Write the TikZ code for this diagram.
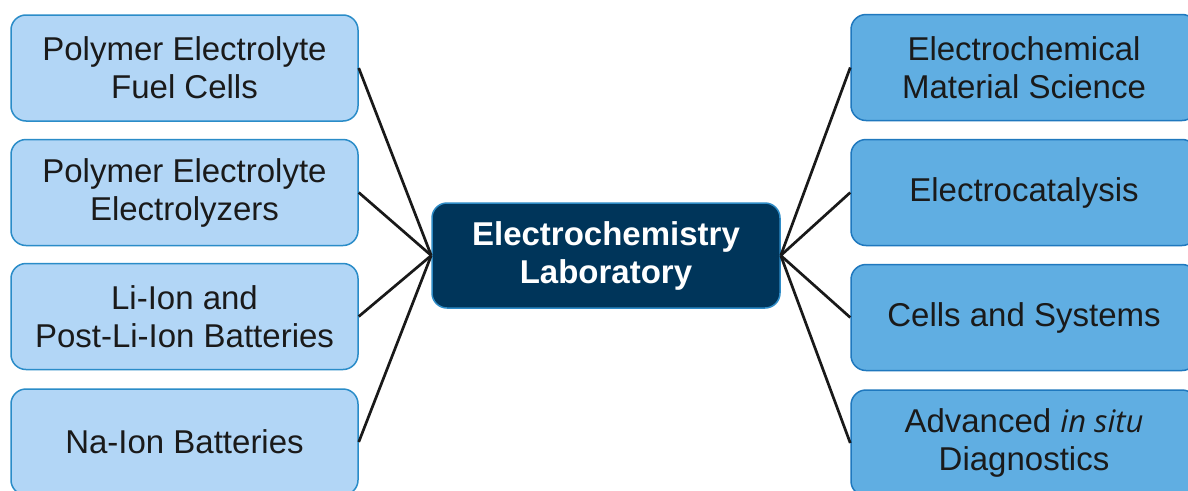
\documentclass[tikz,border=0pt]{standalone}
\usepackage{fontspec}
\setmainfont{Liberation Sans}
\newfontfamily\situfont{Open Sans}
\definecolor{leftfill}{HTML}{B2D6F6}
\definecolor{leftdraw}{HTML}{2A8CC8}
\definecolor{rightfill}{HTML}{60AEE2}
\definecolor{rightdraw}{HTML}{1F78BE}
\definecolor{centerfill}{HTML}{00355A}
\definecolor{centerdraw}{HTML}{2E8BC6}
\definecolor{txt}{HTML}{1A1A1A}
\tikzset{
  boxbase/.style={rectangle, rounded corners=15pt, line width=1.5pt, inner sep=0pt,
    align=center, font=\fontsize{33}{38}\selectfont, text=txt},
  leftbox/.style={boxbase, fill=leftfill, draw=leftdraw, minimum width=347pt, minimum height=106pt},
  rightbox/.style={boxbase, fill=rightfill, draw=rightdraw, minimum width=346pt, minimum height=106pt},
  centerbox/.style={boxbase, fill=centerfill, draw=centerdraw, text=white,
    font=\fontsize{33}{38}\selectfont\bfseries, minimum width=348pt, minimum height=105pt},
  link/.style={draw=black!90, line width=2.7pt}
}
\begin{document}
\begin{tikzpicture}[x=1pt,y=-1pt]
\clip (0,0) rectangle (1188,490);
\fill[white] (0,0) rectangle (1188,490);
\node[centerbox] (c) at (606,255.5) {Electrochemistry\\Laboratory};
\node[leftbox] (l1) at (184.5,68) {Polymer Electrolyte\\Fuel Cells};
\node[leftbox] (l2) at (184.5,192.5) {Polymer Electrolyte\\Electrolyzers};
\node[leftbox] (l3) at (184.5,316.5) {Li-Ion and\\Post-Li-Ion Batteries};
\node[leftbox] (l4) at (184.5,442) {Na-Ion Batteries};
\node[rightbox] (r1) at (1024,67.5) {Electrochemical\\Material Science};
\node[rightbox] (r2) at (1024,192.5) {Electrocatalysis};
\node[rightbox] (r3) at (1024,317.5) {Cells and Systems};
\node[rightbox] (r4) at (1024,443) {Advanced {\situfont\itshape\fontsize{31}{38}\selectfont in situ}\\Diagnostics};
\foreach \n in {l1,l2,l3,l4} \draw[link] (c.west) -- (\n.east);
\foreach \n in {r1,r2,r3,r4} \draw[link] (c.east) -- (\n.west);
\end{tikzpicture}
\end{document}
